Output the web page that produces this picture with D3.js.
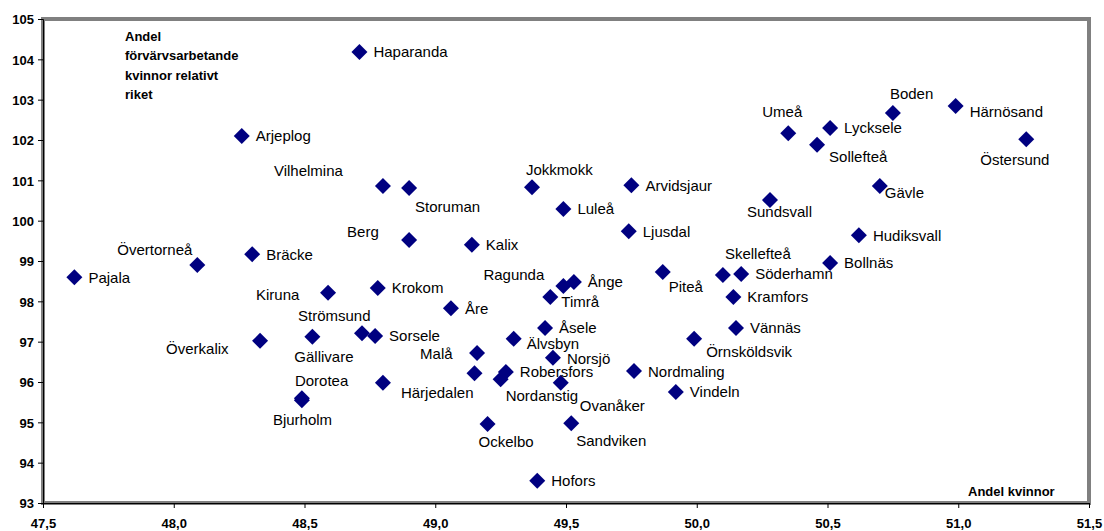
<!DOCTYPE html>
<html>
<head>
<meta charset="utf-8">
<script src="https://cdn.jsdelivr.net/npm/d3@7"></script>
<style>
	body { margin: 0; background: #fff; }
	svg text { font-family: Arial, "Liberation Sans", sans-serif; }
</style>
</head>
<body>
<svg></svg>
<script>
// kommuner, andel kvinnor (x) och förvärvsarbetande kvinnor relativt riket (y)
var names = ["Haparanda", "Arjeplog", "Vilhelmina", "Storuman", "Berg", "Kalix", "Jokkmokk", "Luleå",
	"Arvidsjaur", "Ljusdal", "Övertorneå", "Bräcke", "Pajala", "Kiruna", "Krokom", "Åre", "Strömsund",
	"Sorsele", "Gällivare", "Överkalix", "Dorotea", "Bjurholm", "Härjedalen", "Malå", "Älvsbyn", "Åsele",
	"Norsjö", "", "Nordanstig", "Robersfors", "Ovanåker", "Ockelbo", "Sandviken", "Hofors", "Timrå",
	"Ragunda", "Ånge", "Piteå", "Nordmaling", "Vindeln", "Örnsköldsvik", "Skellefteå", "Söderhamn",
	"Kramfors", "Vännäs", "Umeå", "Lycksele", "Sollefteå", "Boden", "Härnösand", "Östersund", "Gävle",
	"Sundsvall", "Hudiksvall", "Bollnäs"];

var andelKvinnor = [48.71, 48.26, 48.80, 48.90, 48.90, 49.14, 49.37, 49.49,
	49.75, 49.74, 48.09, 48.30, 47.62, 48.59, 48.78, 49.06, 48.72,
	48.77, 48.53, 48.33, 48.49, 48.49, 48.80, 49.16, 49.30, 49.42,
	49.45, 49.15, 49.25, 49.27, 49.48, 49.20, 49.52, 49.39, 49.44,
	49.49, 49.53, 49.87, 49.76, 49.92, 49.99, 50.10, 50.17,
	50.14, 50.15, 50.35, 50.51, 50.46, 50.75, 50.99, 51.26, 50.70,
	50.28, 50.62, 50.51];

var andelForvarv = [104.18, 102.10, 100.86, 100.81, 99.52, 99.40, 100.83, 100.29,
	100.88, 99.74, 98.90, 99.17, 98.60, 98.21, 98.33, 97.83, 97.21,
	97.14, 97.12, 97.02, 95.60, 95.55, 95.98, 96.72, 97.07, 97.34,
	96.60, 96.22, 96.07, 96.25, 95.98, 94.96, 94.98, 93.55, 98.11,
	98.38, 98.48, 98.73, 96.27, 95.75, 97.07, 98.65, 98.68,
	98.11, 97.34, 102.17, 102.30, 101.88, 102.67, 102.84, 102.02, 100.86,
	100.51, 99.64, 98.95];

var xTicks = [47.5, 48.0, 48.5, 49.0, 49.5, 50.0, 50.5, 51.0, 51.5];
var yTicks = [93, 94, 95, 96, 97, 98, 99, 100, 101, 102, 103, 104, 105];

var yTitleLines = ["Andel", "förvärvsarbetande", "kvinnor relativt", "riket"];
var xTitle = "Andel kvinnor";

// etikettplacering (dx, dy från markören), som i originalet
var labelOffsets = {
	"Vilhelmina": [-109, -15], "Storuman": [6, 19], "Berg": [-62, -8], "Jokkmokk": [-6, -18],
	"Övertorneå": [-80, -15], "Kiruna": [-72, 2], "Strömsund": [-64, -18], "Överkalix": [-94, 8],
	"Gällivare": [-18, 20], "Dorotea": [-7, -18], "Bjurholm": [-29, 19], "Malå": [-57, 1],
	"Älvsbyn": [13, 5], "Norsjö": [14, 1], "Nordanstig": [5, 16], "Ovanåker": [19, 23], "Härjedalen": [18, 10],
	"Ockelbo": [-9, 18], "Sandviken": [5, 17], "Ragunda": [-80, -11], "Timrå": [11, 5],
	"Piteå": [6, 15], "Örnsköldsvik": [12, 13], "Skellefteå": [2, -22], "Umeå": [-26, -22],
	"Sollefteå": [12, 12], "Boden": [-3, -19], "Härnösand": [14, 5], "Östersund": [-46, 20],
	"Gävle": [5, 7], "Sundsvall": [-23, 12]
};

var data = names.map(function(n, i) {
	return { name: n, x: andelKvinnor[i], y: andelForvarv[i] };
});

var W = 1104, H = 531;
var margin = { top: 19, right: 15, bottom: 28, left: 43 },
	width = W - margin.left - margin.right,
	height = H - margin.top - margin.bottom;

var sv = d3.formatLocale({ decimal: ",", thousands: " ", grouping: [3], currency: ["", " kr"] });

var xScale = d3.scaleLinear().domain([47.5, 51.5]).range([0, width]);
var yScale = d3.scaleLinear().domain([93, 105]).range([height, 0]);

var svg = d3.select("svg")
	.attr("width", W)
	.attr("height", H)
	.append("g")
	.attr("transform", "translate(" + margin.left + "," + margin.top + ")");

// plot area border
svg.append("rect")
	.attr("width", width)
	.attr("height", height)
	.attr("fill", "#fff")
	.attr("stroke", "#808080")
	.attr("stroke-width", 4);

var xAxis = d3.axisBottom(xScale).tickValues(xTicks).tickSize(5).tickPadding(11)
	.tickFormat(sv.format(".1f"));
var yAxis = d3.axisLeft(yScale).tickValues(yTicks).tickSize(5).tickPadding(4)
	.tickFormat(d3.format("d"));

var gx = svg.append("g")
	.attr("transform", "translate(0," + height + ")")
	.call(xAxis);
var gy = svg.append("g").call(yAxis);

[gx, gy].forEach(function(g) {
	g.select(".domain").attr("stroke", "#000").attr("stroke-width", 1);
	g.selectAll(".tick line").attr("stroke", "#000");
	g.selectAll(".tick text")
		.attr("font-size", 13)
		.attr("font-weight", "bold")
		.attr("fill", "#000");
});
gy.selectAll(".tick text").attr("dy", "0.36em");

// axis titles
svg.append("text")
	.selectAll("tspan")
	.data(yTitleLines)
	.enter()
	.append("tspan")
	.attr("x", 125 - margin.left)
	.attr("y", function(d, i) { return 41 - margin.top + i * 19.3; })
	.attr("font-size", 13)
	.attr("font-weight", "bold")
	.text(function(d) { return d; });

svg.append("text")
	.attr("x", 968 - margin.left)
	.attr("y", 496 - margin.top)
	.attr("font-size", 13)
	.attr("font-weight", "bold")
	.text(xTitle);

// markers
var diamond = d3.symbol().type(d3.symbolSquare).size(128);

svg.selectAll(".dot")
	.data(data)
	.enter()
	.append("path")
	.attr("class", "dot")
	.attr("d", diamond)
	.attr("fill", "#000080")
	.attr("transform", function(d) {
		return "translate(" + xScale(d.x) + "," + yScale(d.y) + ") rotate(45)";
	});

// labels
svg.selectAll(".label")
	.data(data.filter(function(d) { return d.name !== ""; }))
	.enter()
	.append("text")
	.attr("class", "label")
	.attr("x", function(d) {
		var o = labelOffsets[d.name] || [14, 0];
		return xScale(d.x) + o[0];
	})
	.attr("y", function(d) {
		var o = labelOffsets[d.name] || [14, 0];
		return yScale(d.y) + o[1];
	})
	.attr("dy", "0.36em")
	.attr("font-size", 15)
	.attr("fill", "#000")
	.text(function(d) { return d.name; });
</script>
</body>
</html>
